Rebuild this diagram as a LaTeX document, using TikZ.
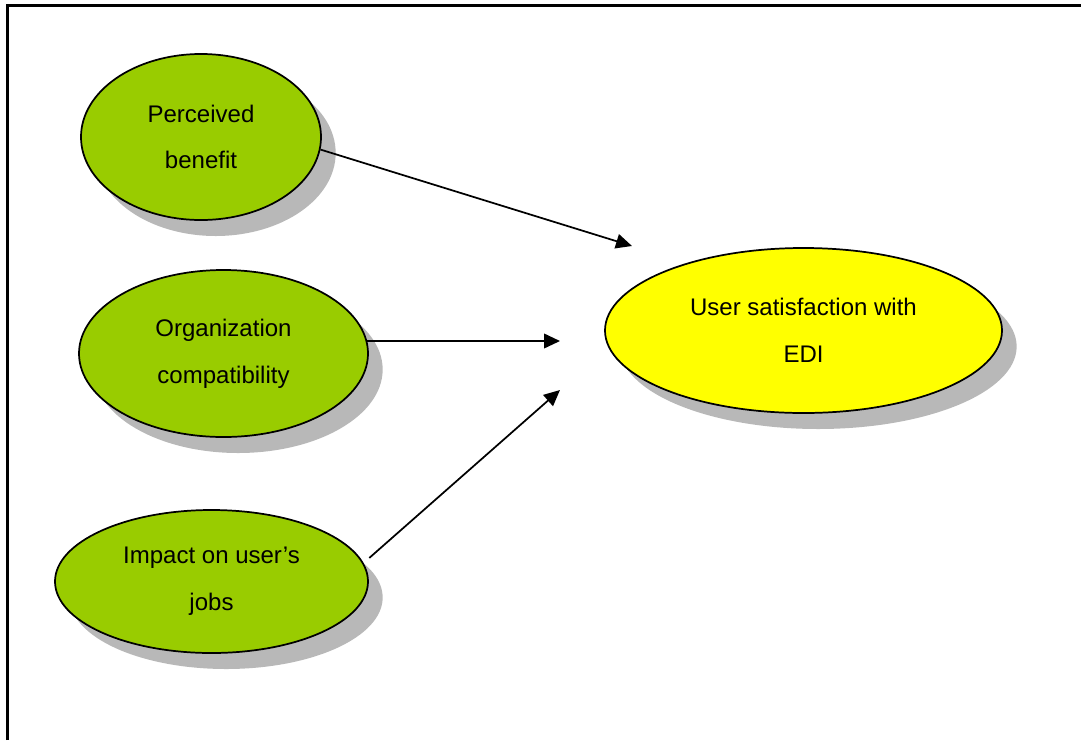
\documentclass[tikz,border=0pt]{standalone}
\usepackage{fontspec}
\setmainfont{Liberation Sans}
\usepackage{tikz}
\usetikzlibrary{shapes.geometric, shadows, arrows.meta}

\definecolor{factorgreen}{RGB}{153,204,0}
\definecolor{outcomeyellow}{RGB}{255,255,0}

\begin{document}
\begin{tikzpicture}[x=0.75pt, y=-0.75pt,
                factor/.style={ellipse, draw, line width=1.3pt, fill=factorgreen, inner sep=0pt, align=center,
                    font=\fontsize{18}{35}\selectfont,
                    drop shadow={shadow xshift=11pt, shadow yshift=-12pt, opacity=1, fill=black!28}},
                outcome/.style={factor, fill=outcomeyellow},
                paths/.style={line width=1.3pt, -{Triangle[length=12pt, width=11pt]}}
            ]
                \useasboundingbox (0,0) rectangle (1081,740);

                % Frame
                \draw[line width=1.6pt] (7.5,740) -- (7.5,5.5) -- (1081,5.5);

                % Nodes
                \node[factor, minimum width=180pt, minimum height=124.5pt] (benefit) at (201,137) {Perceived\\benefit};
                \node[factor, minimum width=216.75pt, minimum height=125.25pt] (compat) at (223.5,353.5) {Organization\\compatibility};
                \node[factor, minimum width=234.75pt, minimum height=107.25pt] (impact) at (211.5,581.5) {Impact on user’s\\jobs};
                \node[outcome, minimum width=297.75pt, minimum height=123.75pt] (satisf) at (803.5,330.5) {User satisfaction with\\EDI};

                % Arrow ends
                \coordinate (tip-benefit) at (632,246);
                \coordinate (tip-compat) at (560,341);
                \coordinate (tip-impact) at (560,390);

                % Paths
                \draw[paths] (benefit.-6) -- (tip-benefit);
                \draw[paths] (compat.5) -- (tip-compat);
                \draw[paths] ([xshift=6.75pt]impact.9) -- (tip-impact);
            \end{tikzpicture}
\end{document}
